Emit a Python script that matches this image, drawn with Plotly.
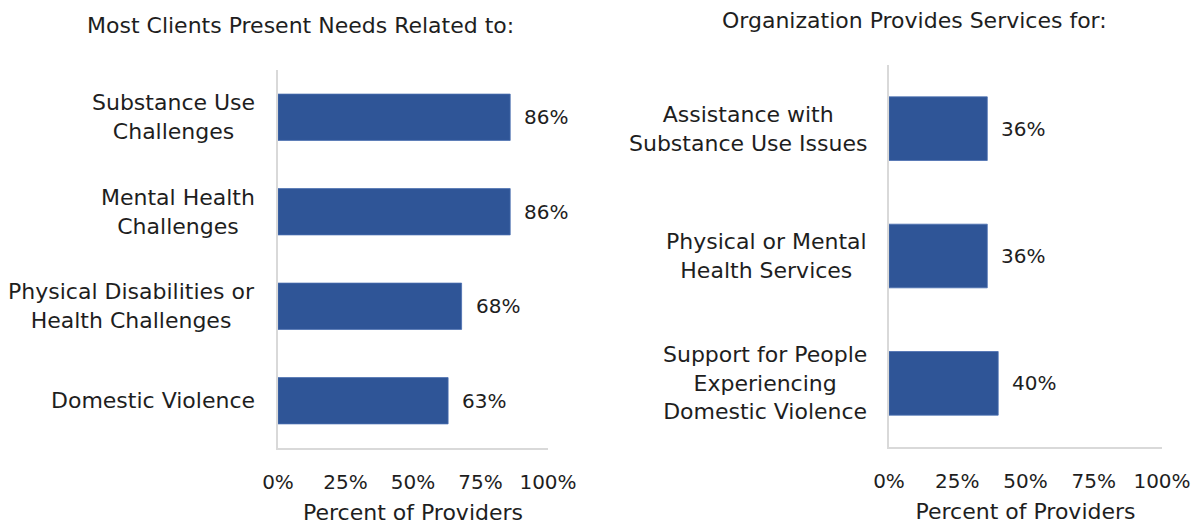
import plotly.graph_objects as go

# Left panel: needs most clients present
needs_labels = [
    "Substance Use<br>Challenges",
    "Mental Health<br>Challenges",
    "Physical Disabilities or<br>Health Challenges",
    "Domestic Violence",
]
needs_values = [0.86, 0.86, 0.68, 0.63]

# Right panel: services the organization provides
services_labels = [
    "Assistance with<br>Substance Use Issues",
    "Physical or Mental<br>Health Services",
    "Support for People<br>Experiencing<br>Domestic Violence",
]
services_values = [0.36, 0.36, 0.40]

x_ticks = [0, 0.25, 0.5, 0.75, 1.0]
x_ticktext = ["0%", "25%", "50%", "75%", "100%"]

BAR = "#2F5597"
AXIS = "#D9D9D9"
FONT = "DejaVu Sans"
TXT = "#1E1E1E"
TEXT_SIZE = 22
NUM_SIZE = 20

fig = go.Figure()

fig.add_trace(go.Bar(
    x=needs_values, y=needs_labels, orientation="h",
    marker=dict(color=BAR, line=dict(color="#4A6FB0", width=0.8)),
    width=0.49, xaxis="x", yaxis="y", showlegend=False, hoverinfo="x+y",
))
fig.add_trace(go.Bar(
    x=services_values, y=services_labels, orientation="h",
    marker=dict(color=BAR, line=dict(color="#4A6FB0", width=0.8)),
    width=0.5, xaxis="x2", yaxis="y2", showlegend=False, hoverinfo="x+y",
))

annotations = []
# category labels, centred block ending just left of each axis
for lab in needs_labels:
    annotations.append(dict(x=0, y=lab, xref="x", yref="y", text=lab,
                            xanchor="right", yanchor="middle", align="center",
                            xshift=-21, showarrow=False,
                            font=dict(family=FONT, size=TEXT_SIZE, color=TXT)))
for lab in services_labels:
    annotations.append(dict(x=0, y=lab, xref="x2", yref="y2", text=lab,
                            xanchor="right", yanchor="middle", align="center",
                            xshift=-20, showarrow=False,
                            font=dict(family=FONT, size=TEXT_SIZE, color=TXT)))
# value labels beside each bar
for lab, v in zip(needs_labels, needs_values):
    annotations.append(dict(x=v, y=lab, xref="x", yref="y", text=f"{v:.0%}",
                            xanchor="left", yanchor="middle", xshift=12,
                            showarrow=False,
                            font=dict(family=FONT, size=NUM_SIZE, color=TXT)))
for lab, v in zip(services_labels, services_values):
    annotations.append(dict(x=v, y=lab, xref="x2", yref="y2", text=f"{v:.0%}",
                            xanchor="left", yanchor="middle", xshift=12,
                            showarrow=False,
                            font=dict(family=FONT, size=NUM_SIZE, color=TXT)))
# panel titles
annotations.append(dict(x=300 / 1198, y=1 - 25 / 529, xref="paper", yref="paper",
                        text="Most Clients Present Needs Related to:",
                        xanchor="center", yanchor="middle", showarrow=False,
                        font=dict(family=FONT, size=TEXT_SIZE, color=TXT)))
annotations.append(dict(x=915 / 1198, y=1 - 20 / 529, xref="paper", yref="paper",
                        text="Organization Provides Services for:",
                        xanchor="center", yanchor="middle", showarrow=False,
                        font=dict(family=FONT, size=TEXT_SIZE, color=TXT)))

xaxis_common = dict(
    range=[0, 1], tickvals=x_ticks, ticktext=x_ticktext,
    showgrid=False, zeroline=False, showline=True, linecolor=AXIS, linewidth=2,
    ticks="", ticklabelstandoff=15, automargin=False,
    tickfont=dict(family=FONT, size=NUM_SIZE, color=TXT),
    title=dict(text="Percent of Providers", standoff=12,
               font=dict(family=FONT, size=TEXT_SIZE, color=TXT)),
    fixedrange=True,
)
yaxis_common = dict(
    showgrid=False, zeroline=False, showline=True, linecolor=AXIS, linewidth=2,
    ticks="", showticklabels=False, autorange="reversed", fixedrange=True,
    automargin=False,
)

fig.update_layout(
    width=1198, height=529,
    margin=dict(l=0, r=0, t=0, b=0),
    paper_bgcolor="white", plot_bgcolor="white",
    xaxis=dict(domain=[278 / 1198, 548 / 1198], anchor="y", **xaxis_common),
    yaxis=dict(domain=[1 - 448 / 529, 1 - 70 / 529], anchor="x", **yaxis_common),
    xaxis2=dict(domain=[889 / 1198, 1162 / 1198], anchor="y2", **xaxis_common),
    yaxis2=dict(domain=[1 - 447 / 529, 1 - 65 / 529], anchor="x2", **yaxis_common),
    annotations=annotations,
    bargap=0.5,
)

fig.write_html("out.html")
